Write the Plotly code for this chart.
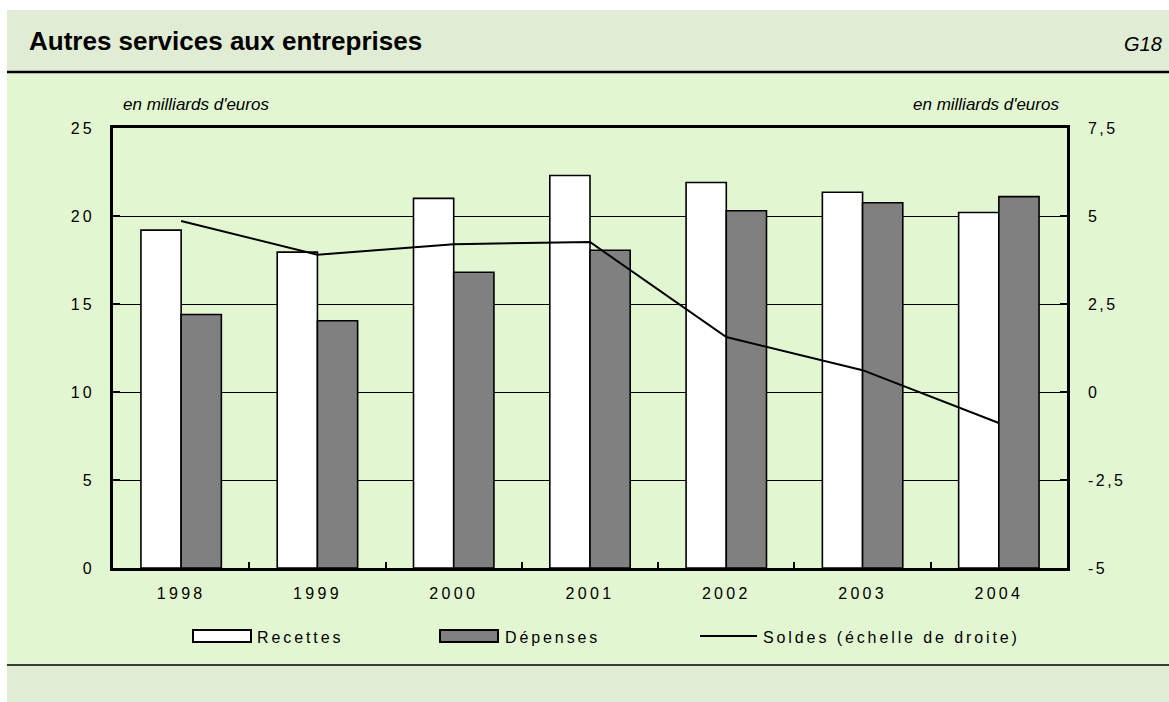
import plotly.graph_objects as go

W, H = 1169, 702

annees = ["1998", "1999", "2000", "2001", "2002", "2003", "2004"]
recettes = [19.2, 17.95, 21.0, 22.3, 21.9, 21.35, 20.2]
depenses = [14.4, 14.05, 16.8, 18.05, 20.3, 20.75, 21.1]
soldes = [4.86, 3.9, 4.2, 4.26, 1.56, 0.62, -0.88]

# échelle de droite (tirets simples comme dans l'original)
soldes_ticks = [-5, -2.5, 0, 2.5, 5, 7.5]
soldes_labels = ["-5", "-2,5", "0", "2,5", "5", "7,5"]

titre = "Autres services aux entreprises"
numero = "G18"
unite = "en milliards d'euros"
legende = ["Recettes", "Dépenses", "Soldes (échelle de droite)"]

# zone du graphique en pixels
x0, x1 = 113, 1067
y0, y1 = 128, 568

def px(x):
    return x / W

def py(y):
    return 1 - y / H

FONT = "Liberation Sans, Arial, sans-serif"
BAND_TITLE = "#e1ecd4"
BAND_PLOT = "#e2f7d1"
GRIS = "#808080"

fig = go.Figure()

fig.add_trace(go.Bar(
    x=annees, y=recettes, name=legende[0],
    marker=dict(color="white", line=dict(color="black", width=1.6)),
    showlegend=False,
))
fig.add_trace(go.Bar(
    x=annees, y=depenses, name=legende[1],
    marker=dict(color=GRIS, line=dict(color="black", width=1.6)),
    showlegend=False,
))
fig.add_trace(go.Scatter(
    x=annees, y=soldes, name=legende[2], yaxis="y2", mode="lines",
    line=dict(color="black", width=2), showlegend=False,
))

shapes = [
    # bandeaux de fond
    dict(type="rect", xref="paper", yref="paper", x0=px(7), x1=1,
         y0=py(72), y1=py(10), fillcolor=BAND_TITLE, line_width=0, layer="below"),
    dict(type="rect", xref="paper", yref="paper", x0=px(7), x1=1,
         y0=py(665), y1=py(72), fillcolor=BAND_PLOT, line_width=0, layer="below"),
    dict(type="rect", xref="paper", yref="paper", x0=px(7), x1=1,
         y0=0, y1=py(665), fillcolor=BAND_TITLE, line_width=0, layer="below"),
    dict(type="line", xref="paper", yref="paper", x0=px(7), x1=1,
         y0=py(72), y1=py(72), line=dict(color="black", width=2.5)),
    dict(type="line", xref="paper", yref="paper", x0=px(7), x1=1,
         y0=py(665), y1=py(665), line=dict(color="black", width=1.5)),
    # légende
    dict(type="rect", xref="paper", yref="paper", x0=px(193), x1=px(251),
         y0=py(642), y1=py(630), fillcolor="white", line=dict(color="black", width=2)),
    dict(type="rect", xref="paper", yref="paper", x0=px(440), x1=px(498),
         y0=py(642), y1=py(630), fillcolor=GRIS, line=dict(color="black", width=2)),
    dict(type="line", xref="paper", yref="paper", x0=px(700), x1=px(757),
         y0=py(636), y1=py(636), line=dict(color="black", width=2)),
]

annotations = [
    dict(text=f"<b>{titre}</b>", x=px(27), y=py(41), xref="paper", yref="paper",
         xanchor="left", yanchor="middle", showarrow=False,
         font=dict(size=26, color="black", family=FONT)),
    dict(text=f"<i>{numero}</i>", x=px(1164), y=py(44), xref="paper", yref="paper",
         xanchor="right", yanchor="middle", showarrow=False,
         font=dict(size=20, color="black", family=FONT)),
    dict(text=f"<i>{unite}</i>", x=px(121), y=py(104), xref="paper", yref="paper",
         xanchor="left", yanchor="middle", showarrow=False,
         font=dict(size=17, color="black", family=FONT)),
    dict(text=f"<i>{unite}</i>", x=px(1061), y=py(104), xref="paper", yref="paper",
         xanchor="right", yanchor="middle", showarrow=False,
         font=dict(size=17, color="black", family=FONT)),
]
for xt, label in zip([255, 503, 761], legende):
    annotations.append(dict(
        text=label, x=px(xt), y=py(637), xref="paper", yref="paper",
        xanchor="left", yanchor="middle", align="left", showarrow=False,
        font=dict(size=16, color="black", family=FONT),
    ))

axe = dict(showline=True, linecolor="black", automargin=False,
           ticks="inside", tickcolor="black", tickwidth=2)

fig.update_layout(
    width=W, height=H,
    margin=dict(l=0, r=0, t=0, b=0),
    paper_bgcolor="white",
    plot_bgcolor=BAND_PLOT,
    separators=", ",
    barmode="group",
    bargap=0.41,
    bargroupgap=0,
    font=dict(family=FONT, size=16, color="black"),
    shapes=shapes,
    annotations=annotations,
    xaxis=dict(
        axe, domain=[px(x0), px(x1)], linewidth=2.5, mirror=True,
        ticklen=6, tickson="boundaries", showgrid=False,
        ticklabelstandoff=9,
    ),
    yaxis=dict(
        axe, domain=[py(y1), py(y0)], linewidth=2.5,
        range=[0, 25], dtick=5, ticklen=7,
        showgrid=True, gridcolor="black", gridwidth=1,
        zeroline=False, ticklabelstandoff=12,
    ),
    yaxis2=dict(
        axe, overlaying="y", side="right", linewidth=2.5,
        range=[-5, 7.5], tickvals=soldes_ticks, ticktext=soldes_labels,
        ticklen=7, showgrid=False, zeroline=False, ticklabelstandoff=15,
    ),
)

# espacement des lettres comme dans l'original
js = """
document.body.style.margin = '0';
document.body.style.overflow = 'hidden';
document.querySelectorAll('.xtick text, .ytick text').forEach(function (t) {
    t.style.letterSpacing = '3.3px';
});
document.querySelectorAll('.y2tick text').forEach(function (t) {
    t.style.letterSpacing = '2.5px';
});
[4, 5, 6].forEach(function (i) {
    document.querySelectorAll('.annotation[data-index="' + i + '"] .annotation-text').forEach(function (t) {
        t.style.letterSpacing = '2.9px';
    });
});
"""

fig.write_html("out.html", config={"displayModeBar": False}, post_script=js)
